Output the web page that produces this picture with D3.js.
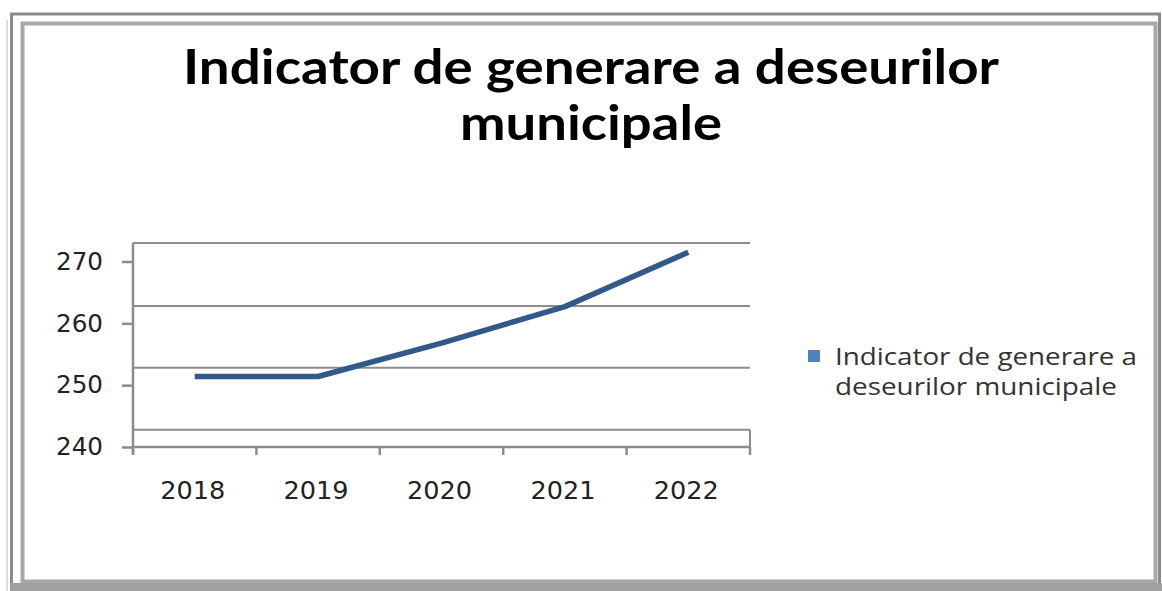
<!DOCTYPE html>
<html>
<head>
<meta charset="utf-8">
<script src="https://cdn.jsdelivr.net/npm/d3@7"></script>
<style>
  html, body { margin: 0; padding: 0; background: #ffffff; }
  svg { display: block; }
</style>
</head>
<body>
<svg id="chart" width="1162" height="591"></svg>
<script>
// ---- data ----
const categories = ["2018", "2019", "2020", "2021", "2022"];
const seriesName = "Indicator de generare a deseurilor municipale";
const seriesValues = [251.4, 251.4, 256.8, 262.7, 271.5];
const yTickValues = [240, 250, 260, 270];
const gridLevels = [242.8, 252.8, 262.8, 273];
const titleLines = ["Indicator de generare a deseurilor", "municipale"];
const legendLines = ["Indicator de generare a", "deseurilor municipale"];

const svg = d3.select("#chart");

// ---- frame ----
svg.append("rect").attr("x", 0).attr("y", 0).attr("width", 1162).attr("height", 591).attr("fill", "#ffffff");
// outer border
svg.append("rect").attr("x", 11.5).attr("y", 14).attr("width", 1148).attr("height", 576)
  .attr("fill", "none").attr("stroke", "#8a8a8a").attr("stroke-width", 3);
// light blue hint left
svg.append("line").attr("x1", 7).attr("x2", 7).attr("y1", 20).attr("y2", 591)
  .attr("stroke", "#d7e0ea").attr("stroke-width", 2);
// inner border
svg.append("rect").attr("x", 22.5).attr("y", 23.5).attr("width", 1133).attr("height", 558)
  .attr("fill", "none").attr("stroke", "#a8a8a8").attr("stroke-width", 4);
svg.append("rect").attr("x", 25).attr("y", 26).attr("width", 1128).attr("height", 553)
  .attr("fill", "#ffffff");
// bottom shadow band
svg.append("rect").attr("x", 10).attr("y", 583).attr("width", 1152).attr("height", 8).attr("fill", "#a0a0a0");

// ---- title ----
const title = svg.append("g");
title.append("text").attr("x", 591).attr("y", 84).attr("text-anchor", "middle")
  .attr("font-family", "Lato, 'Open Sans', sans-serif").attr("font-weight", 700)
  .attr("font-size", 47).attr("fill", "#000")
  .attr("textLength", 816).attr("lengthAdjust", "spacingAndGlyphs")
  .text(titleLines[0]);
title.append("text").attr("x", 591).attr("y", 140).attr("text-anchor", "middle")
  .attr("font-family", "Lato, 'Open Sans', sans-serif").attr("font-weight", 700)
  .attr("font-size", 47).attr("fill", "#000")
  .attr("textLength", 262).attr("lengthAdjust", "spacingAndGlyphs")
  .text(titleLines[1]);

// ---- scales ----
const x = d3.scaleBand().domain(categories).range([133, 750]).padding(0);
const y = d3.scaleLinear().domain([240, 270]).range([447, 261.5]);
const gridColor = "#8c8c8c";

// gridlines
svg.append("g").selectAll("line").data(gridLevels).join("line")
  .attr("x1", 133).attr("x2", 750)
  .attr("y1", d => y(d)).attr("y2", d => y(d))
  .attr("stroke", gridColor).attr("stroke-width", 2);

// right border segment of plot bottom
svg.append("line").attr("x1", 750).attr("x2", 750)
  .attr("y1", y(gridLevels[0])).attr("y2", y(240))
  .attr("stroke", gridColor).attr("stroke-width", 2);

// y axis
const yAxis = svg.append("g").attr("transform", "translate(133,0)")
  .call(d3.axisLeft(y).tickValues(yTickValues).tickSize(11).tickPadding(19).tickFormat(d3.format("d")));
yAxis.select(".domain").attr("d", `M0,${y(d3.max(gridLevels))}V${y(240) + 7}`)
  .attr("stroke", gridColor).attr("stroke-width", 2.5);
yAxis.selectAll(".tick line").attr("stroke", gridColor).attr("stroke-width", 2.5);
yAxis.selectAll(".tick text")
  .attr("font-family", "'DejaVu Sans', Verdana, sans-serif").attr("font-size", 24)
  .attr("fill", "#222").attr("textLength", 47).attr("lengthAdjust", "spacingAndGlyphs");

// x axis
const xAxis = svg.append("g").attr("transform", `translate(0,${y(240)})`);
xAxis.append("line").attr("x1", 133).attr("x2", 750).attr("y1", 0).attr("y2", 0)
  .attr("stroke", gridColor).attr("stroke-width", 2.5);
const xTickPos = categories.map(c => x(c)).concat([x.range()[1]]);
xAxis.selectAll("line.xt").data(xTickPos).join("line").attr("class", "xt")
  .attr("x1", d => d).attr("x2", d => d).attr("y1", 0).attr("y2", 8)
  .attr("stroke", gridColor).attr("stroke-width", 2.5);
xAxis.selectAll("text").data(categories).join("text")
  .attr("x", d => x(d) + x.bandwidth() / 2 - 2).attr("y", 52)
  .attr("text-anchor", "middle")
  .attr("font-family", "'DejaVu Sans', Verdana, sans-serif").attr("font-size", 24)
  .attr("fill", "#222").attr("textLength", 65).attr("lengthAdjust", "spacingAndGlyphs")
  .text(d => d);

// ---- line ----
const line = d3.line().x((d, i) => x(categories[i]) + x.bandwidth() / 2).y(d => y(d));
svg.append("path").datum(seriesValues)
  .attr("d", line).attr("fill", "none")
  .attr("stroke", "#315a8b").attr("stroke-width", 5.5)
  .attr("stroke-linejoin", "round");

// ---- legend ----
const legend = svg.append("g");
legend.append("rect").attr("x", 808).attr("y", 350).attr("width", 12).attr("height", 12).attr("fill", "#4f81bd");
legend.selectAll("text").data(legendLines).join("text")
  .attr("x", 835).attr("y", (d, i) => 365 + i * 30)
  .attr("font-family", "'Open Sans', Lato, sans-serif").attr("font-size", 23)
  .attr("fill", "#333")
  .attr("textLength", (d, i) => i === 0 ? 302 : 282).attr("lengthAdjust", "spacingAndGlyphs")
  .text(d => d);
</script>
</body>
</html>
